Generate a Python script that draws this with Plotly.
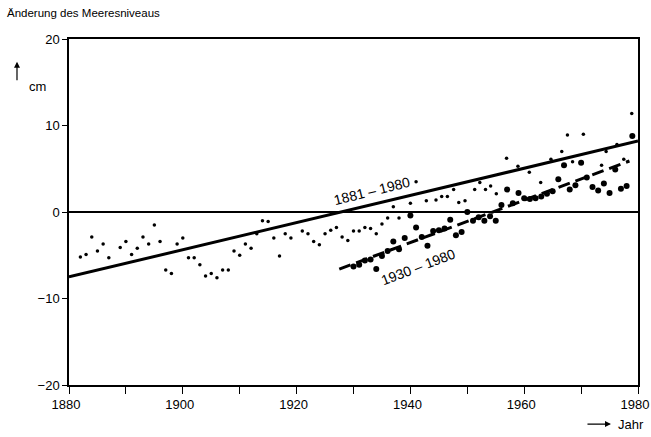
import plotly.graph_objects as go

# annual values (small dots), cm
small_years = [1882, 1883, 1884, 1885, 1886, 1887, 1889, 1890, 1891, 1892, 1893, 1894, 1895, 1896,
               1897, 1898, 1899, 1900, 1901, 1902, 1903, 1904, 1905, 1906, 1907, 1908, 1909, 1910,
               1911, 1912, 1913, 1914, 1915, 1916, 1917, 1918, 1919, 1921, 1922, 1923, 1924, 1925,
               1926, 1927, 1928, 1929, 1930, 1931, 1932, 1933, 1934, 1935, 1936, 1937, 1938, 1940,
               1941, 1942.8, 1944.5, 1945.5, 1946.5, 1947.6, 1948.5, 1949.6, 1951.3, 1952.2, 1953.2,
               1954.1, 1955.1, 1956.9, 1958.9, 1960.9, 1962.9, 1964.7, 1966.6, 1967.6, 1968.5,
               1970.4, 1973.6, 1974.4, 1976.3, 1977.5, 1978.9]
small_cm = [-5.2, -4.9, -2.9, -4.5, -3.7, -5.3, -4.1, -3.4, -4.9, -4.2, -2.9, -3.7, -1.5, -3.4,
            -6.7, -7.1, -3.7, -3.0, -5.3, -5.3, -6.1, -7.4, -7.1, -7.6, -6.7, -6.7, -4.5, -5.0,
            -3.7, -4.2, -2.5, -1.0, -1.1, -3.0, -5.1, -2.5, -3.0, -2.2, -2.5, -3.4, -3.8, -2.5,
            -2.1, -1.8, -2.9, -3.3, -2.2, -2.2, -1.8, -1.9, -2.5, -1.4, -0.7, 0.6, -0.7, 1.0,
            3.5, 1.3, 1.4, 1.8, 1.8, 2.6, 1.1, 1.3, 2.6, 3.4, 2.6,
            3.0, 2.1, 6.2, 5.3, 4.6, 3.4, 6.1, 7.0, 8.9, 5.8,
            9.0, 5.4, 7.0, 7.8, 6.1, 11.4]

# second series 1930-1980 (large dots), cm
big_years = list(range(1930, 1980))
big_cm = [-6.3, -6.1, -5.6, -5.5, -6.6, -5.1, -4.5, -3.4, -4.3, -3.0,
          -0.4, -1.8, -2.9, -3.9, -2.2, -2.1, -1.9, -0.9, -2.7, -2.3,
          0.0, -1.0, -0.6, -1.0, -0.5, -1.0, 0.8, 2.6, 1.0, 2.2,
          1.6, 1.5, 1.6, 1.8, 2.1, 2.4, 3.8, 5.4, 2.6, 3.1,
          5.7, 4.0, 2.9, 2.5, 3.3, 2.2, 4.9, 2.7, 3.0, 8.8]

# linear trends
trend_long_years = [1880, 1980]
trend_long_cm = [-7.5, 8.2]
trend_short_years = [1927.5, 1978.5]
trend_short_cm = [-6.6, 5.9]

x_ticks = list(range(1880, 1981, 10))
x_ticktext = [str(v) if v % 20 == 0 else "" for v in x_ticks]
y_ticks = [-20, -10, 0, 10, 20]

FONT = "Liberation Sans, Arial, sans-serif"

fig = go.Figure()
fig.add_trace(go.Scatter(x=trend_long_years, y=trend_long_cm, mode="lines",
                         line=dict(color="black", width=3), hoverinfo="skip"))
fig.add_trace(go.Scatter(x=trend_short_years, y=trend_short_cm, mode="lines",
                         line=dict(color="black", width=3, dash="12px,6px"), hoverinfo="skip"))
fig.add_trace(go.Scatter(x=small_years, y=small_cm, mode="markers",
                         marker=dict(color="black", size=3.5)))
fig.add_trace(go.Scatter(x=big_years, y=big_cm, mode="markers",
                         marker=dict(color="black", size=6)))

fig.add_annotation(x=1933.2, y=2.4, text="1881 – 1980", showarrow=False, textangle=-14,
                   xanchor="center", yanchor="middle",
                   font=dict(size=14, family=FONT, color="black"))
fig.add_annotation(x=1941.3, y=-6.3, text="1930 – 1980", showarrow=False, textangle=-21,
                   xanchor="center", yanchor="middle",
                   font=dict(size=14, family=FONT, color="black"))

# title and axis captions
fig.add_annotation(xref="paper", yref="paper", x=-0.1125, y=1.075, xanchor="left", yanchor="middle",
                   text="Änderung des Meeresniveaus", showarrow=False,
                   font=dict(size=11.5, family=FONT, color="black"))
fig.add_annotation(xref="paper", yref="paper", x=-0.0914, y=0.934, text="", showarrow=True,
                   ax=0, ay=20, arrowhead=2, arrowsize=1, arrowwidth=1.2, arrowcolor="black")
fig.add_annotation(xref="paper", yref="paper", x=-0.056, y=0.864, text="cm", showarrow=False,
                   xanchor="center", yanchor="middle",
                   font=dict(size=13, family=FONT, color="black"))
fig.add_annotation(xref="paper", yref="paper", x=0.9525, y=-0.113, text="", showarrow=True,
                   ax=-25, ay=0, arrowhead=2, arrowsize=1, arrowwidth=1.2, arrowcolor="black")
fig.add_annotation(xref="paper", yref="paper", x=0.988, y=-0.113, text="Jahr", showarrow=False,
                   xanchor="center", yanchor="middle",
                   font=dict(size=13, family=FONT, color="black"))

fig.update_layout(
    width=651, height=437,
    margin=dict(l=69, r=13, t=39, b=52, autoexpand=False),
    paper_bgcolor="white", plot_bgcolor="white",
    showlegend=False,
    font=dict(family=FONT, size=13, color="black"),
    xaxis=dict(range=[1880, 1980], tickvals=x_ticks, ticktext=x_ticktext,
               ticks="outside", ticklen=7, tickwidth=1.2, tickcolor="black",
               ticklabeloverflow="allow", ticklabelshift=-3, automargin=False,
               showline=True, linecolor="black", linewidth=1.5, mirror=True,
               showgrid=False, zeroline=False, fixedrange=True),
    yaxis=dict(range=[-20, 20], tickvals=y_ticks, automargin=False,
               ticks="outside", ticklen=5, tickwidth=1.2, tickcolor="black",
               showline=True, linecolor="black", linewidth=1.5, mirror=True,
               showgrid=False, zeroline=True, zerolinecolor="black", zerolinewidth=1.5,
               fixedrange=True),
)

fig.write_html("out.html")
